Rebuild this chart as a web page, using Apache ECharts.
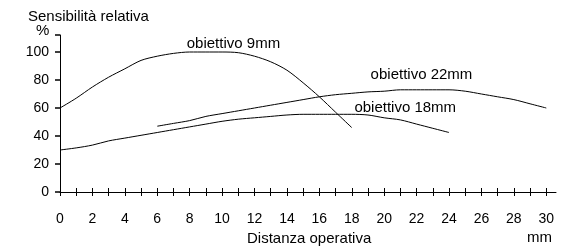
<!DOCTYPE html>
<html>
<head>
<meta charset="utf-8">
<script src="https://cdn.jsdelivr.net/npm/echarts@6/dist/echarts.min.js"></script>
<style>
  html, body { margin: 0; padding: 0; background: #fff; }
  #chart { width: 576px; height: 250px; }
</style>
</head>
<body>
<div id="chart"></div>
<script>
// distanza operativa (mm)
var xs9 = [0, 1, 2, 3, 4, 5, 6, 7, 8, 9, 10, 11, 12, 13, 14, 15, 16, 17, 18];
var obj9 = [60, 67, 75, 82, 88, 94, 97, 99, 100, 100, 100, 99.5, 97, 93, 87, 78, 68, 57, 46];

var xs22 = [6, 7, 8, 9, 10, 11, 12, 13, 14, 15, 16, 17, 18, 19, 20, 21, 22, 23, 24, 25, 26, 27, 28, 29, 30];
var obj22 = [47, 49, 51, 54, 56, 58, 60, 62, 64, 66, 68, 69.5, 70.5, 71.5, 72, 73, 73, 73, 73, 72, 70, 68, 66, 63, 60];

var xs18 = [0, 1, 2, 3, 4, 5, 6, 7, 8, 9, 10, 11, 12, 13, 14, 15, 16, 17, 18, 19, 20, 21, 22, 23, 24];
var obj18 = [30, 31.5, 33.5, 36.5, 38.5, 40.5, 42.5, 44.5, 46.5, 48.5, 50.5, 52, 53, 54, 55, 55.5, 55.5, 55.5, 55.5, 55, 53, 51.5, 48.5, 45.5, 42.5];

var seriesNames = ['obiettivo 9mm', 'obiettivo 22mm', 'obiettivo 18mm'];
var labelPos = [[10.7, 106], [22.3, 83.5], [21.3, 60]];

var xTicks = [];
for (var i = 0; i <= 30; i++) xTicks.push(i);
var xLabels = [0, 2, 4, 6, 8, 10, 12, 14, 16, 18, 20, 22, 24, 26, 28, 30];
var yTicks = [0, 20, 40, 60, 80, 100];

function pairs(xs, ys) {
    return xs.map(function (x, i) { return [x, ys[i]]; });
}

var font = 'Liberation Sans, Arial, sans-serif';
var tickStyle = { color: '#000', width: 1 };
var yMax = 157 / 1.4;  // 28px per 20 units

function mkSeries(idx, data) {
    return {
        name: seriesNames[idx],
        type: 'line',
        data: data,
        smooth: 0.3,
        showSymbol: false,
        symbol: 'none',
        lineStyle: { color: '#000', width: 1 },
        markPoint: {
            symbolSize: 0,
            label: { show: true, formatter: seriesNames[idx], color: '#000', fontSize: 15, fontFamily: font },
            data: [{ coord: labelPos[idx] }]
        },
        silent: true
    };
}

var chart = echarts.init(document.getElementById('chart'));
chart.setOption({
    animation: false,
    grid: { left: 60, right: 20, top: 35, bottom: 58 },
    xAxis: [{
        type: 'value', min: 0, max: 30.6,
        axisLine: { lineStyle: { color: '#000', width: 1 } },
        axisTick: { show: true, length: 4, inside: false, customValues: xTicks, lineStyle: tickStyle },
        axisLabel: { customValues: xLabels, margin: 20, color: '#000', fontSize: 14, fontFamily: font },
        splitLine: { show: false }
    }, {
        type: 'value', min: 0, max: 30.6, position: 'bottom',
        axisLine: { show: false },
        axisTick: { show: true, length: 4, inside: true, customValues: xTicks, lineStyle: tickStyle },
        axisLabel: { show: false },
        splitLine: { show: false }
    }],
    yAxis: {
        type: 'value', min: 0, max: yMax, interval: 20,
        axisLine: { show: true, lineStyle: { color: '#000', width: 1 } },
        axisTick: { show: true, length: 5, inside: false, lineStyle: { color: '#000', width: 1.5 } },
        axisLabel: { customValues: yTicks, margin: 11, color: '#000', fontSize: 14, fontFamily: font },
        splitLine: { show: false }
    },
    series: [
        mkSeries(0, pairs(xs9, obj9)),
        mkSeries(1, pairs(xs22, obj22)),
        mkSeries(2, pairs(xs18, obj18))
    ],
    graphic: [
        { type: 'text', left: 28, top: 9, style: { text: 'Sensibilità relativa', fill: '#000', font: '15px ' + font } },
        { type: 'text', left: 36, top: 23, style: { text: '%', fill: '#000', font: '15px ' + font } },
        { type: 'text', left: 247, top: 231, style: { text: 'Distanza operativa', fill: '#000', font: '15px ' + font } },
        { type: 'text', left: 527, top: 230, style: { text: 'mm', fill: '#000', font: '15px ' + font } }
    ]
});
</script>
</body>
</html>
